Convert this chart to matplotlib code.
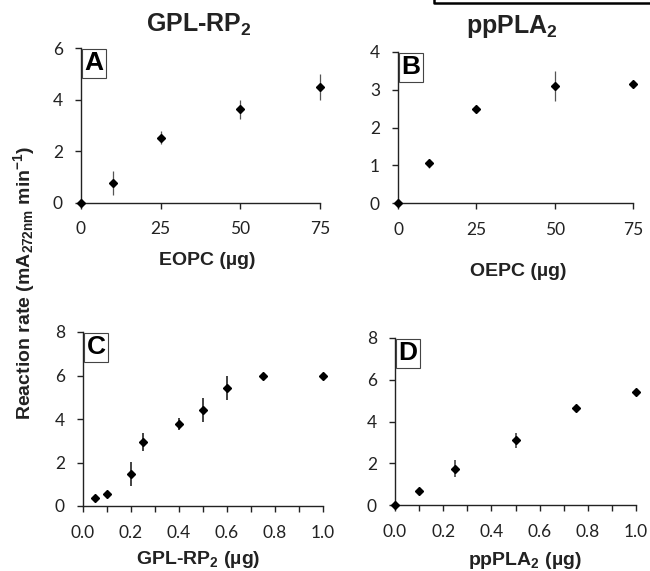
import numpy as np
import matplotlib
matplotlib.use('Agg')
import matplotlib.pyplot as plt
from matplotlib.ticker import MultipleLocator, FixedLocator
from matplotlib.lines import Line2D

plt.rcParams['mathtext.default'] = 'regular'
plt.rcParams['font.family'] = ['Liberation Sans', 'DejaVu Sans']

# panel A: GPL-RP2 vs EOPC
xA = [0, 10, 25, 50, 75]
yA = [0, 0.76, 2.52, 3.62, 4.50]
eA = [0, 0.48, 0.26, 0.37, 0.50]
# panel B: ppPLA2 vs OEPC
xB = [0, 10, 25, 50, 75]
yB = [0, 1.05, 2.49, 3.09, 3.16]
eB = [0, 0.12, 0.05, 0.40, 0.07]
# panel C: GPL-RP2 amount
xC = [0.05, 0.1, 0.2, 0.25, 0.4, 0.5, 0.6, 0.75, 1.0]
yC = [0.38, 0.55, 1.48, 2.94, 3.76, 4.43, 5.44, 5.99, 6.0]
eC = [0.05, 0.05, 0.55, 0.40, 0.27, 0.55, 0.55, 0.10, 0.05]
# panel D: ppPLA2 amount
xD = [0, 0.1, 0.25, 0.5, 0.75, 1.0]
yD = [0, 0.69, 1.74, 3.10, 4.64, 5.42]
eD = [0, 0.05, 0.42, 0.35, 0.06, 0.06]

W, H = 650, 571
fig = plt.figure(figsize=(6.5, 5.71), dpi=100)

def px_axes(x0, x1, y0, y1):
    return fig.add_axes([x0 / W, 1 - y1 / H, (x1 - x0) / W, (y1 - y0) / H])

def style(ax, letter, xlim, ylim, ystep, xmaj, xmin, xfmt):
    ax.set_xlim(*xlim)
    ax.set_ylim(*ylim)
    for s in ['top', 'right']:
        ax.spines[s].set_visible(False)
    for s in ['left', 'bottom']:
        ax.spines[s].set_linewidth(1.0)
        ax.spines[s].set_color('#222222')
    ax.yaxis.set_major_locator(MultipleLocator(ystep))
    ax.xaxis.set_major_locator(FixedLocator(xmaj))
    if xmin is not None:
        ax.xaxis.set_minor_locator(FixedLocator(xmin))
    ax.set_xticklabels([xfmt.format(v) for v in xmaj])
    ax.tick_params(which='both', direction='out', length=4.5, width=1.0, color='#222222',
                   labelsize=12.5, labelcolor='#222222', labelfontfamily='Lato')
    ax.tick_params(axis='x', pad=9)
    ax.tick_params(axis='y', pad=8.5)
    ax.annotate(letter, xy=(0, 1), xycoords='axes fraction',
                xytext=(2.5, -2.5), textcoords='offset points',
                ha='left', va='top', fontsize=19, fontweight='bold',
                bbox=dict(boxstyle='square,pad=0.08', fc='white', ec='#444444', lw=0.8),
                annotation_clip=False)

def plot_pts(ax, x, y, e, ecol, elw):
    ax.errorbar(x, y, yerr=e, fmt='D', ms=4.3, color='black', ecolor=ecol,
                elinewidth=elw, capsize=0, clip_on=False, zorder=3)

axA = px_axes(81, 320, 48, 202.5)
plot_pts(axA, xA, yA, eA, '#555555', 0.9)
style(axA, 'A', (0, 75), (0, 6), 2, [0, 25, 50, 75], None, '{:d}')

axB = px_axes(398, 633, 52, 203)
plot_pts(axB, xB, yB, eB, '#555555', 0.9)
style(axB, 'B', (0, 75), (0, 4), 1, [0, 25, 50, 75], None, '{:d}')

ticks01 = [0.0, 0.2, 0.4, 0.6, 0.8, 1.0]
minor01 = [0.1, 0.3, 0.5, 0.7, 0.9]

axC = px_axes(83, 323, 332, 506)
plot_pts(axC, xC, yC, eC, '#222222', 1.2)
style(axC, 'C', (0, 1.0), (0, 8), 2, ticks01, minor01, '{:.1f}')

axD = px_axes(395, 636, 338, 505)
plot_pts(axD, xD, yD, eD, '#333333', 1.1)
style(axD, 'D', (0, 1.0), (0, 8), 2, ticks01, minor01, '{:.1f}')

lab_kw = dict(fontsize=14, fontweight='bold', color='#222222', ha='center', va='baseline')
fig.text(199 / W, 1 - 32 / H, 'GPL-RP$_2$', fontsize=18, fontweight='bold',
         color='#222222', ha='center', va='baseline')
fig.text(512 / W, 1 - 33 / H, 'ppPLA$_2$', fontsize=18, fontweight='bold',
         color='#222222', ha='center', va='baseline')
fig.text(207 / W, 1 - 265 / H, 'EOPC (µg)', **lab_kw)
fig.text(518 / W, 1 - 276 / H, 'OEPC (µg)', **lab_kw)
fig.text(198 / W, 1 - 564 / H, 'GPL-RP$_2$ (µg)', **lab_kw)
fig.text(525 / W, 1 - 565 / H, 'ppPLA$_2$ (µg)', **lab_kw)
fig.text(24 / W, 1 - 283 / H, 'Reaction rate (mA$_{272nm}$ min$^{-1}$)',
         fontsize=14, fontweight='bold', color='#222222', rotation=90,
         ha='center', va='center')

# cropped box edge at top right
fig.add_artist(Line2D([434 / W, 434 / W, 1.0], [1.0, 1 - 3 / H, 1 - 3 / H],
                      transform=fig.transFigure, color='black', lw=1.8))

fig.savefig('out.png', dpi=100)
